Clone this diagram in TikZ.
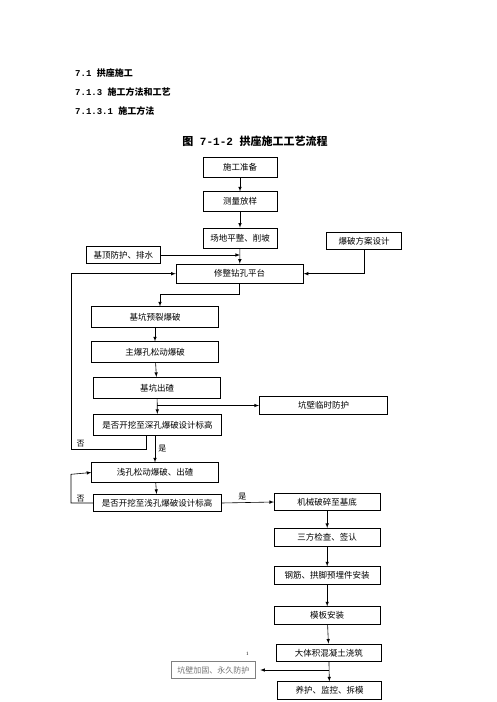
\documentclass[tikz,border=0pt]{standalone}
\usepackage{fontspec}
\setmainfont{Liberation Serif}
\setmonofont{Liberation Mono}
\newfontfamily\cjk{Noto Sans CJK SC}
\newfontfamily\cjkb{Noto Sans CJK SC Bold}

\tikzset{
  stepbox/.style={draw, line width=0.6pt, inner sep=0pt, align=center, font=\cjk\fontsize{8.5}{10}\selectfont},
  flow/.style={->, >=latex, line width=0.6pt},
  tag/.style={inner sep=0pt, font=\cjk\fontsize{8}{10}\selectfont},
  heading/.style={anchor=west, inner sep=0pt, font=\ttfamily\bfseries\fontsize{9}{11}\selectfont}
}

\begin{document}
\begin{tikzpicture}[x=1pt,y=-1pt]
				\useasboundingbox (0,0) rectangle (496,702);
				
				% Headings and caption
				\node[heading] (h1) at (75,72.7) {7.1 {\cjkb 拱座施工}};
				\node[heading] (h2) at (75,91.7) {7.1.3 {\cjkb 施工方法和工艺}};
				\node[heading] (h3) at (75,110.7) {7.1.3.1 {\cjkb 施工方法}};
				\node[inner sep=0pt, font=\ttfamily\bfseries\fontsize{11}{13}\selectfont] (title) at (255,141) {{\cjkb 图} 7-1-2 {\cjkb 拱座施工工艺流程}};
				
				% Main column of steps
				\node[stepbox, minimum width=74pt, minimum height=20pt] (prep) at (240,167) {施工准备};
				\node[stepbox, minimum width=74pt, minimum height=20pt] (survey) at (240,201.7) {测量放样};
				\node[stepbox, minimum width=74pt, minimum height=20pt] (level) at (240,238) {场地平整、削坡};
				\node[stepbox, minimum width=75pt, minimum height=16.6pt] (plan) at (364.2,241) {爆破方案设计};
				\node[stepbox, minimum width=73.3pt, minimum height=16.6pt] (topprot) at (123.3,255) {基顶防护、排水};
				\node[stepbox, minimum width=127.3pt, minimum height=19.3pt] (platform) at (239.7,273.7) {修整钻孔平台};
				\node[stepbox, minimum width=126.7pt, minimum height=20.6pt] (presplit) at (155,317) {基坑预裂爆破};
				\node[stepbox, minimum width=126.7pt, minimum height=20.6pt] (mainblast) at (155,352) {主爆孔松动爆破};
				\node[stepbox, minimum width=127.4pt, minimum height=21pt] (muck) at (157,387.8) {基坑出碴};
				\node[stepbox, minimum width=128.4pt, minimum height=17.6pt] (tempwall) at (323.5,405.5) {坑壁临时防护};
				\node[stepbox, minimum width=128.4pt, minimum height=21pt] (deepchk) at (157.5,424.8) {是否开挖至深孔爆破设计标高};
				\node[stepbox, minimum width=126.7pt, minimum height=19.6pt] (shallow) at (155,472.5) {浅孔松动爆破、出碴};
				\node[stepbox, minimum width=127.7pt, minimum height=17.4pt] (shallowchk) at (157.2,503) {是否开挖至浅孔爆破设计标高};
				
				% Right column of steps
				\node[stepbox, minimum width=105.7pt, minimum height=17.4pt] (breaker) at (327.2,502) {机械破碎至基底};
				\node[stepbox, minimum width=105.7pt, minimum height=18.4pt] (inspect) at (327.2,537.5) {三方检查、签认};
				\node[stepbox, minimum width=105.7pt, minimum height=17.3pt] (rebar) at (327.2,575.3) {钢筋、拱脚预埋件安装};
				\node[stepbox, minimum width=105.7pt, minimum height=17.3pt] (formwork) at (327.2,615.3) {模板安装};
				\node[stepbox, minimum width=105.7pt, minimum height=17.7pt] (pour) at (328.8,652.8) {大体积混凝土浇筑};
				\node[stepbox, minimum width=83.3pt, minimum height=16.6pt, draw=gray, text=gray!90!black, font=\cjk\fontsize{8}{10}\selectfont] (permwall) at (213.3,670) {坑壁加固、永久防护};
				\node[stepbox, minimum width=104.4pt, minimum height=17.6pt] (cure) at (329.5,690.5) {养护、监控、拆模};
				\node[inner sep=0pt, font=\fontsize{5}{6}\selectfont] (mark) at (247.3,654) {1};
				
				% Connectors
				\draw[flow] (prep) -- (survey);
				\draw[flow] (survey) -- (level);
				\draw[flow] (level) -- (platform);
				\draw[flow] (topprot.east) -- (topprot.east -| level.south);
				\draw[flow] (plan.south) |- (platform.east);
				\coordinate (loopa) at (71.7,449);
				\draw[flow] ([xshift=-11.5pt]deepchk.south) |- (loopa) |- (platform.west);
				\draw[flow] (platform.south) -- ++(0,10.3) -| ([xshift=5pt]presplit.north);
				\draw[flow] (presplit) -- (mainblast);
				\draw[flow] (mainblast) -- (muck);
				\draw[flow] (muck) -- (deepchk);
				\draw[flow] (muck.south |- tempwall.west) -- (tempwall.west);
				\draw[flow] (deepchk.south -| shallow.north) -- node[tag, right=3pt] {是} (shallow.north);
				\draw[flow] (shallow) -- (shallowchk);
				\coordinate (loopb) at (71,474.3);
				\draw[flow] (shallowchk.west) -| (loopb) -- (shallow.west);
				\node[tag] (no2) at (80.7,499) {否};
				\node[tag] (no1) at (80.7,443.5) {否};
				\draw[flow] (shallowchk.east) -- node[tag, above=2pt, pos=0.4] {是} (breaker.west);
				\draw[flow] (breaker) -- (inspect);
				\draw[flow] (inspect) -- (rebar);
				\draw[flow] (rebar) -- (formwork);
				\draw[flow] (formwork) -- (pour);
				\draw[flow] (pour) -- (cure);
				\draw[flow] (pour.south |- permwall.east) -- ([xshift=5pt]permwall.east);
			\end{tikzpicture}
\end{document}
